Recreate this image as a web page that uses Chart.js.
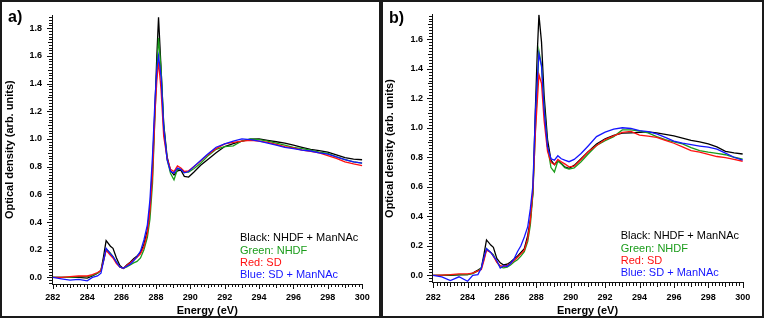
<!DOCTYPE html>
<html><head><meta charset="utf-8">
<script src="https://cdn.jsdelivr.net/npm/chart.js@4.4.0/dist/chart.umd.min.js"></script>
<style>
html,body{margin:0;padding:0;background:#fff;width:765px;height:319px;overflow:hidden;}
canvas{position:absolute;top:0;}
.box{position:absolute;top:0;height:318px;box-sizing:border-box;border:2px solid #1a1a1a;pointer-events:none;}
</style></head><body>
<canvas id="ca" width="380" height="319" style="left:0"></canvas>
<canvas id="cb" width="384" height="319" style="left:381px"></canvas>
<div class="box" style="left:0;width:381px"></div>
<div class="box" style="left:381px;width:383px"></div>
<script>
// Photon energy (eV)
const energies = [282,282.5,283,283.5,284,284.3,284.6,284.8,284.95,285.1,285.35,285.5,285.7,285.9,286.1,286.3,286.5,286.7,286.9,287.1,287.3,287.5,287.65,287.8,287.95,288.05,288.15,288.3,288.45,288.65,288.85,289.05,289.25,289.45,289.65,289.9,290.2,290.6,291.0,291.5,292.0,292.5,293.0,293.5,294.0,294.5,295.0,295.5,296.0,296.5,297.0,297.5,298.0,298.5,299.0,299.5,300];
const seriesNames = ['Black: NHDF + ManNAc','Green: NHDF','Red: SD','Blue: SD + ManNAc'];
const seriesColors = ['#000000','#1a9c1a','#ff1010','#1515ff'];
const xTickLabels = [282,284,286,288,290,292,294,296,298,300];

// Panel a)
const aBlack = [0,0,0,0,-0.005,0.01,0.03,0.05,0.15,0.265,0.225,0.21,0.14,0.085,0.065,0.09,0.11,0.135,0.155,0.18,0.24,0.34,0.50,0.80,1.25,1.60,1.88,1.50,1.11,0.87,0.77,0.74,0.77,0.775,0.73,0.725,0.76,0.81,0.85,0.90,0.945,0.967,0.985,0.998,1.0,0.99,0.98,0.97,0.955,0.94,0.925,0.915,0.905,0.885,0.865,0.855,0.85];
const aGreen = [0,0,0,0.005,0.005,0.015,0.03,0.05,0.12,0.205,0.175,0.15,0.11,0.075,0.065,0.075,0.09,0.105,0.115,0.14,0.20,0.29,0.42,0.68,1.20,1.50,1.73,1.50,1.10,0.85,0.75,0.705,0.78,0.78,0.76,0.76,0.785,0.825,0.875,0.925,0.945,0.95,0.985,1.0,0.995,0.985,0.97,0.955,0.94,0.93,0.92,0.905,0.895,0.87,0.85,0.835,0.825];
const aRed = [0,0,0.005,0.01,0.01,0.02,0.035,0.05,0.12,0.195,0.16,0.14,0.10,0.075,0.065,0.085,0.105,0.125,0.145,0.17,0.22,0.32,0.48,0.74,1.20,1.42,1.56,1.35,1.02,0.86,0.78,0.765,0.805,0.79,0.765,0.77,0.80,0.84,0.885,0.93,0.965,0.975,0.985,0.99,0.985,0.975,0.96,0.945,0.935,0.92,0.91,0.90,0.88,0.86,0.835,0.82,0.808];
const aBlue = [0,-0.01,-0.02,-0.015,-0.025,0.0,0.01,0.03,0.12,0.21,0.17,0.15,0.11,0.075,0.065,0.08,0.095,0.12,0.15,0.19,0.27,0.38,0.56,0.88,1.30,1.50,1.60,1.45,1.08,0.85,0.765,0.755,0.79,0.78,0.755,0.765,0.80,0.845,0.89,0.94,0.965,0.985,1.0,0.995,0.985,0.97,0.955,0.94,0.93,0.92,0.913,0.90,0.89,0.87,0.85,0.835,0.825];

// Panel b)
const bBlack = [0,0,0,0.003,0.005,0.015,0.035,0.05,0.14,0.24,0.205,0.19,0.115,0.085,0.07,0.075,0.09,0.11,0.13,0.155,0.18,0.27,0.38,0.56,1.15,1.50,1.765,1.58,1.22,0.92,0.78,0.75,0.775,0.76,0.735,0.725,0.745,0.79,0.835,0.89,0.925,0.948,0.963,0.965,0.968,0.972,0.965,0.955,0.945,0.93,0.915,0.905,0.89,0.87,0.84,0.83,0.822];
const bGreen = [0,0,0.003,0.005,0.005,0.012,0.03,0.05,0.11,0.18,0.155,0.14,0.09,0.055,0.05,0.055,0.07,0.09,0.105,0.13,0.16,0.23,0.34,0.55,1.0,1.26,1.52,1.42,1.15,0.87,0.73,0.70,0.775,0.755,0.73,0.72,0.728,0.77,0.82,0.88,0.912,0.94,0.985,0.985,0.978,0.965,0.94,0.92,0.905,0.89,0.865,0.845,0.835,0.827,0.817,0.80,0.788];
const bRed = [0,0.002,0.005,0.01,0.01,0.015,0.03,0.04,0.10,0.17,0.155,0.13,0.088,0.065,0.06,0.068,0.08,0.10,0.12,0.145,0.17,0.25,0.37,0.58,0.98,1.17,1.36,1.30,1.05,0.84,0.765,0.75,0.785,0.77,0.755,0.735,0.74,0.785,0.835,0.88,0.92,0.945,0.968,0.975,0.95,0.943,0.935,0.915,0.895,0.87,0.845,0.835,0.82,0.805,0.798,0.785,0.773];
const bBlue = [0,-0.01,-0.035,-0.01,-0.04,0.0,0.005,0.05,0.12,0.18,0.155,0.13,0.10,0.05,0.065,0.06,0.08,0.11,0.16,0.20,0.26,0.33,0.45,0.61,1.12,1.32,1.50,1.42,1.12,0.87,0.79,0.78,0.81,0.79,0.78,0.77,0.785,0.825,0.875,0.94,0.97,0.99,1.0,0.995,0.98,0.973,0.958,0.935,0.91,0.895,0.885,0.876,0.868,0.855,0.828,0.80,0.78];

const FONT = '"Liberation Sans", Arial, sans-serif';

const rulerTicks = {
  id: 'rulerTicks',
  afterDraw(chart) {
    const ctx = chart.ctx, xs = chart.scales.x, ys = chart.scales.y, ca = chart.chartArea;
    ctx.save();
    ctx.strokeStyle = '#111';
    ctx.lineWidth = 1;
    ctx.beginPath();
    const x0 = xTickLabels[0], x1 = xTickLabels[xTickLabels.length - 1];
    const nx = Math.round((x1 - x0) / 0.2);
    const by = Math.round(ca.bottom);
    for (let i = 0; i <= nx; i++) {
      const px = Math.round(xs.getPixelForValue(x0 + i * 0.2)) + 0.5;
      const len = i % 10 === 0 ? 5 : (i % 5 === 0 ? 4 : 3);
      ctx.moveTo(px, by);
      ctx.lineTo(px, by + len);
    }
    const lx = Math.round(ca.left);
    for (let i = -2; i * 0.02 <= ys.max; i++) {
      const py = Math.round(ys.getPixelForValue(i * 0.02)) + 0.5;
      const len = i % 10 === 0 ? 5 : (i % 5 === 0 ? 4 : 3);
      ctx.moveTo(lx, py);
      ctx.lineTo(lx - len, py);
    }
    ctx.stroke();
    ctx.restore();
  }
};

const notes = {
  id: 'notes',
  afterDraw(chart, args, o) {
    const ctx = chart.ctx;
    ctx.save();
    ctx.textAlign = 'left';
    ctx.fillStyle = '#000';
    ctx.font = 'bold 16px ' + FONT;
    ctx.textBaseline = 'alphabetic';
    ctx.fillText(o.panel, o.panelX, o.panelY);
    ctx.font = '11px ' + FONT;
    ctx.textBaseline = 'middle';
    chart.data.datasets.forEach((ds, i) => {
      ctx.fillStyle = ds.borderColor;
      ctx.fillText(ds.label, o.legX, o.legY + i * o.legStep);
    });
    ctx.restore();
  }
};

function makeChart(id, series, c) {
  return new Chart(document.getElementById(id), {
    type: 'line',
    data: {
      datasets: series.map((vals, i) => ({
        label: seriesNames[i],
        data: energies.map((e, k) => ({x: e, y: vals[k]})),
        borderColor: seriesColors[i],
        borderWidth: 1.3,
        pointRadius: 0,
        tension: 0,
        fill: false,
        order: 4 - i
      }))
    },
    options: {
      responsive: false, animation: false, devicePixelRatio: 1,
      layout: {padding: {left: 0, right: c.padRight, top: c.top, bottom: 0}},
      plugins: {
        legend: {display: false}, tooltip: {enabled: false},
        notes: {panel: c.panel, panelX: 8, panelY: c.panelY, legX: c.legX, legY: c.legY, legStep: 12.3}
      },
      scales: {
        x: {
          type: 'linear', min: c.xMin, max: c.xMax,
          afterFit: s => { s.height = c.xH; },
          grid: {display: false, drawTicks: false},
          border: {display: true, color: '#111', width: 1},
          ticks: {stepSize: 2, includeBounds: false, autoSkip: false, maxRotation: 0, padding: c.xPad, color: '#000',
                  font: {family: FONT, size: 9, weight: 'bold'},
                  callback: v => String(Math.round(v))},
          title: {display: true, text: 'Energy (eV)', color: '#000', font: {family: FONT, size: 11, weight: 'bold'},
                  padding: {top: 0, bottom: 1}}
        },
        y: {
          min: c.yMin, max: c.yMax,
          afterFit: s => { s.width = c.yW; },
          grid: {display: false, drawTicks: false},
          border: {display: true, color: '#111', width: 1},
          ticks: {stepSize: 0.2, includeBounds: false, autoSkip: false, padding: c.yPad, color: '#000',
                  font: {family: FONT, size: 9, weight: 'bold'},
                  callback: v => Math.abs(v) < 1e-9 ? '0.0' : v.toFixed(1)},
          title: {display: true, text: 'Optical density (arb. units)', color: '#000',
                  font: {family: FONT, size: 11, weight: 'bold'}, padding: {top: c.yTitlePad, bottom: 0}}
        }
      }
    },
    plugins: [rulerTicks, notes]
  });
}

makeChart('ca', [aBlack, aGreen, aRed, aBlue], {
  panel: 'a)', panelY: 22, legX: 240, legY: 238.3,
  xMin: 281.95, xMax: 300.02, yMin: -0.0478, yMax: 1.8927,
  top: 12, padRight: 17.5, xH: 35, yW: 52, xPad: 8.3, yPad: 10, yTitlePad: 3
});
makeChart('cb', [bBlack, bGreen, bRed, bBlue], {
  panel: 'b)', panelY: 22.5, legX: 239.7, legY: 236.2,
  xMin: 281.93, xMax: 300.02, yMin: -0.05, yMax: 1.768,
  top: 12.7, padRight: 22, xH: 36.3, yW: 51, xPad: 9.6, yPad: 9, yTitlePad: 2
});
</script>
</body></html>
